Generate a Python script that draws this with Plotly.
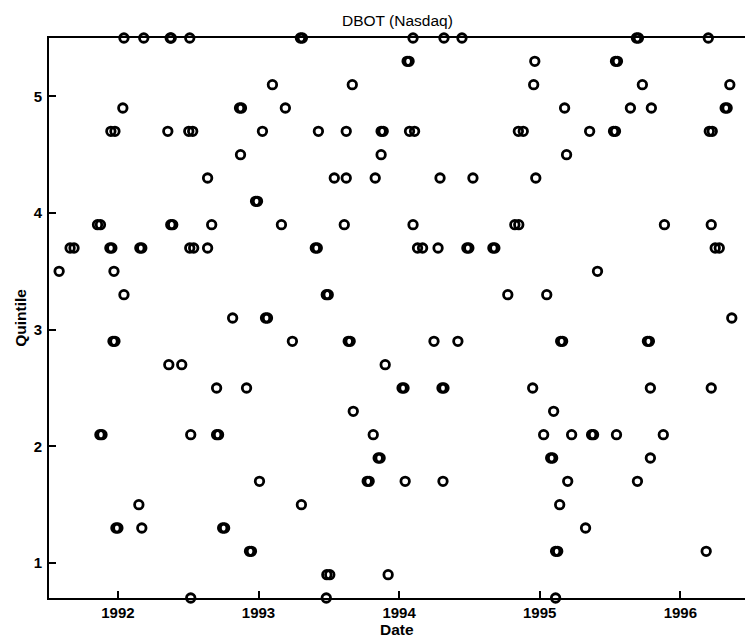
import plotly.graph_objects as go

# Quintile ranking of DBOT over time (decimal years), grouped by quintile level
dates = [
    # 5.5
    1992.043, 1992.184, 1992.372, 1992.379, 1992.511, 1993.298, 1993.312,
    1994.099, 1994.319, 1994.447, 1995.688, 1995.702, 1996.199,
    # 5.3
    1994.057, 1994.071, 1994.965, 1995.539, 1995.553,
    # 5.1
    1993.099, 1993.667, 1994.957, 1995.730, 1996.352,
    # 4.9
    1992.035, 1992.865, 1992.879, 1993.191, 1995.177, 1995.645, 1995.794,
    1996.319, 1996.333,
    # 4.7
    1991.950, 1991.979, 1992.355, 1992.504, 1992.532, 1993.028, 1993.426,
    1993.624, 1993.872, 1993.887, 1994.074, 1994.110, 1994.848, 1994.883,
    1995.355, 1995.525, 1995.539, 1996.206, 1996.227,
    # 4.5
    1992.872, 1993.872, 1995.191,
    # 4.3
    1992.638, 1993.539, 1993.624, 1993.830, 1994.291, 1994.525, 1994.972,
    # 4.1
    1992.979, 1992.993,
    # 3.9
    1991.855, 1991.876, 1992.376, 1992.390, 1992.667, 1993.163, 1993.610,
    1994.099, 1994.823, 1994.851, 1995.887, 1996.220,
    # 3.7
    1991.660, 1991.688, 1991.943, 1991.957, 1992.156, 1992.170, 1992.511,
    1992.539, 1992.638, 1993.404, 1993.418, 1994.131, 1994.167, 1994.277,
    1994.482, 1994.496, 1994.667, 1994.681, 1996.248, 1996.277,
    # 3.5
    1991.582, 1991.972, 1995.411,
    # 3.3
    1992.043, 1993.482, 1993.496, 1994.773, 1995.050,
    # 3.1
    1992.816, 1993.050, 1993.064, 1996.366,
    # 2.9
    1991.965, 1991.979, 1993.241, 1993.638, 1993.652, 1994.248, 1994.418,
    1995.149, 1995.163, 1995.766, 1995.780,
    # 2.7
    1992.362, 1992.454, 1993.901,
    # 2.5
    1992.702, 1992.915, 1994.021, 1994.035, 1994.305, 1994.319, 1994.950,
    1995.787, 1996.220,
    # 2.3
    1993.674, 1995.099,
    # 2.1
    1991.872, 1991.887, 1992.518, 1992.702, 1992.716, 1993.816, 1995.028,
    1995.227, 1995.369, 1995.383, 1995.546, 1995.879,
    # 1.9
    1993.851, 1993.865, 1995.078, 1995.092, 1995.787,
    # 1.7
    1993.007, 1993.773, 1993.787, 1994.043, 1994.312, 1995.199, 1995.695,
    # 1.5
    1992.149, 1993.305, 1995.142,
    # 1.3
    1991.986, 1992.000, 1992.170, 1992.745, 1992.759, 1995.326,
    # 1.1
    1992.936, 1992.950, 1995.113, 1995.128, 1996.184,
    # 0.9
    1993.486, 1993.507, 1993.922,
    # 0.7
    1992.518, 1993.482, 1995.113,
]

level_counts = [
    (5.5, 13), (5.3, 5), (5.1, 5), (4.9, 9), (4.7, 19), (4.5, 3), (4.3, 7),
    (4.1, 2), (3.9, 12), (3.7, 20), (3.5, 3), (3.3, 5), (3.1, 4), (2.9, 11),
    (2.7, 3), (2.5, 9), (2.3, 2), (2.1, 12), (1.9, 5), (1.7, 7), (1.5, 3),
    (1.3, 6), (1.1, 5), (0.9, 3), (0.7, 3),
]
quintiles = [lvl for lvl, n in level_counts for _ in range(n)]

year_ticks = [1992, 1993, 1994, 1995, 1996]
quintile_ticks = [1, 2, 3, 4, 5]

tick_font = dict(family="Liberation Sans", size=15, color="black", weight="bold")

fig = go.Figure(
    go.Scatter(
        x=dates,
        y=quintiles,
        mode="markers",
        cliponaxis=False,
        marker=dict(
            symbol="circle-open",
            size=8.5,
            color="black",
            line=dict(width=2.8, color="black"),
        ),
        showlegend=False,
    )
)

fig.update_layout(
    width=745,
    height=640,
    margin=dict(l=49, r=0, t=38, b=42),
    paper_bgcolor="white",
    plot_bgcolor="white",
    xaxis=dict(
        range=[1991.51, 1996.46],
        tickvals=year_ticks,
        ticktext=[str(y) for y in year_ticks],
        ticks="inside",
        ticklen=7,
        tickwidth=2,
        tickcolor="black",
        showline=True,
        linecolor="black",
        linewidth=2,
        mirror=True,
        showgrid=False,
        zeroline=False,
        tickfont=tick_font,
    ),
    yaxis=dict(
        range=[0.7, 5.5],
        tickvals=quintile_ticks,
        ticks="inside",
        ticklen=7,
        tickwidth=2,
        tickcolor="black",
        showline=True,
        linecolor="black",
        linewidth=2,
        mirror=False,
        showgrid=False,
        zeroline=False,
        tickfont=tick_font,
        ticklabelstandoff=2,
    ),
    annotations=[
        dict(text="DBOT (Nasdaq)", xref="paper", yref="paper", x=0.5, y=1.032,
             xanchor="center", yanchor="middle", showarrow=False,
             font=dict(family="Liberation Sans", size=15.5, color="black")),
        dict(text="Date", xref="paper", yref="paper", x=0.5, y=-0.057,
             xanchor="center", yanchor="middle", showarrow=False,
             font=dict(family="Liberation Sans", size=15.5, color="black", weight="bold")),
        dict(text="Quintile", xref="paper", yref="paper", x=-0.042, y=0.5,
             xanchor="center", yanchor="middle", showarrow=False, textangle=-90,
             font=dict(family="Liberation Sans", size=15.5, color="black", weight="bold")),
    ],
)

fig.write_html("out.html")
